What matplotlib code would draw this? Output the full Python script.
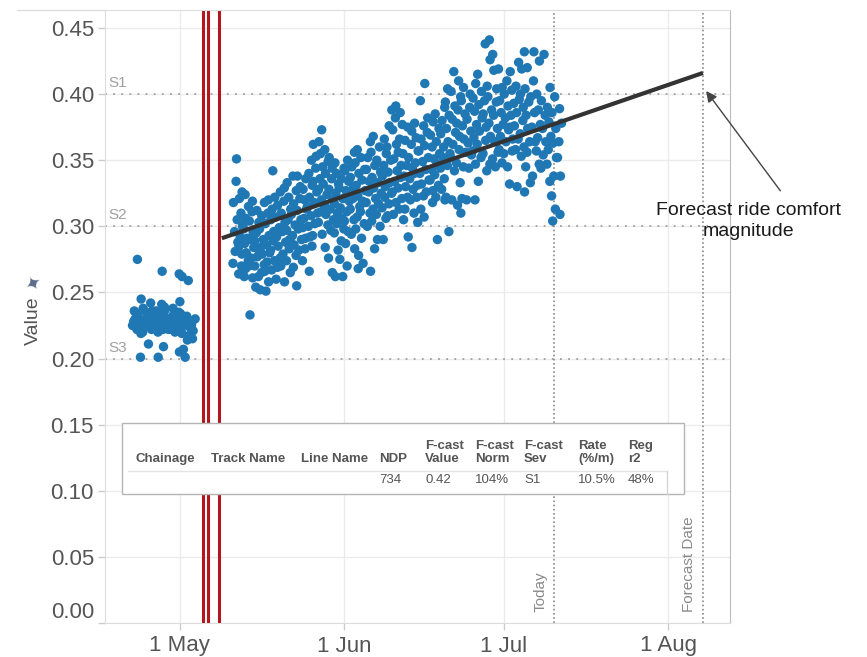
import numpy as np
import matplotlib
matplotlib.use("Agg")
import matplotlib.pyplot as plt
import matplotlib.dates as mdates
from matplotlib.lines import Line2D
from matplotlib.patches import Rectangle

plt.rcParams['font.family'] = ['Liberation Sans', 'DejaVu Sans']

# reading days (offset from 1 May) and values recorded on each day
early_days = [-9, -8, -7, -6, -5, -4, -3, -2, -1, 0, 1, 2]
early_readings = [
    [0.230, 0.225, 0.234, 0.228, 0.222, 0.236],
    [0.275, 0.245, 0.231, 0.226, 0.221, 0.229, 0.234, 0.219, 0.201],
    [0.238, 0.229, 0.224, 0.232, 0.227, 0.220, 0.235, 0.226],
    [0.242, 0.230, 0.225, 0.233, 0.222, 0.228, 0.211, 0.236, 0.227],
    [0.201, 0.228, 0.223, 0.231, 0.226, 0.236, 0.220, 0.229, 0.225],
    [0.266, 0.241, 0.227, 0.222, 0.232, 0.209, 0.225, 0.229, 0.235],
    [0.231, 0.226, 0.222, 0.228, 0.236, 0.224, 0.230, 0.239],
    [0.233, 0.227, 0.221, 0.229, 0.225, 0.238, 0.223, 0.231],
    [0.264, 0.229, 0.224, 0.232, 0.226, 0.220, 0.235, 0.228, 0.205],
    [0.262, 0.243, 0.227, 0.222, 0.231, 0.226, 0.219, 0.234, 0.207],
    [0.259, 0.229, 0.224, 0.232, 0.218, 0.214, 0.201, 0.227],
    [0.226, 0.221, 0.230, 0.215, 0.224],
]

late_days = list(range(10, 72))
late_readings = [
    [0.351, 0.334, 0.318, 0.305, 0.296, 0.288, 0.281, 0.272],
    [0.326, 0.321, 0.310, 0.301, 0.292, 0.285, 0.279, 0.270, 0.264, 0.300],
    [0.324, 0.315, 0.306, 0.298, 0.291, 0.287, 0.280, 0.274, 0.268, 0.262],
    [0.319, 0.311, 0.304, 0.296, 0.290, 0.284, 0.276, 0.270, 0.261, 0.233],
    [0.312, 0.303, 0.295, 0.289, 0.283, 0.277, 0.270, 0.262, 0.254],
    [0.318, 0.308, 0.298, 0.290, 0.284, 0.279, 0.271, 0.265, 0.252],
    [0.320, 0.310, 0.302, 0.293, 0.286, 0.280, 0.273, 0.266, 0.258, 0.251],
    [0.342, 0.322, 0.313, 0.305, 0.296, 0.289, 0.282, 0.274, 0.267],
    [0.326, 0.316, 0.307, 0.299, 0.292, 0.285, 0.276, 0.269, 0.260],
    [0.329, 0.319, 0.310, 0.303, 0.296, 0.288, 0.279, 0.270, 0.258],
    [0.333, 0.322, 0.313, 0.305, 0.297, 0.290, 0.283, 0.274, 0.265],
    [0.338, 0.327, 0.317, 0.309, 0.301, 0.293, 0.286, 0.278, 0.269],
    [0.338, 0.330, 0.321, 0.312, 0.305, 0.298, 0.290, 0.282, 0.255],
    [0.336, 0.328, 0.320, 0.313, 0.306, 0.299, 0.291, 0.283, 0.274],
    [0.350, 0.340, 0.331, 0.322, 0.315, 0.308, 0.300, 0.292, 0.285, 0.266],
    [0.362, 0.353, 0.344, 0.334, 0.326, 0.318, 0.310, 0.302, 0.293],
    [0.373, 0.364, 0.355, 0.345, 0.336, 0.328, 0.320, 0.311, 0.303, 0.294],
    [0.358, 0.349, 0.340, 0.332, 0.324, 0.316, 0.309, 0.301, 0.284],
    [0.352, 0.344, 0.336, 0.328, 0.320, 0.313, 0.305, 0.297, 0.276, 0.265],
    [0.348, 0.340, 0.332, 0.325, 0.317, 0.310, 0.302, 0.295, 0.282, 0.262],
    [0.344, 0.336, 0.329, 0.321, 0.314, 0.306, 0.298, 0.289, 0.275, 0.262],
    [0.350, 0.342, 0.334, 0.327, 0.319, 0.311, 0.304, 0.296, 0.287, 0.270],
    [0.356, 0.345, 0.337, 0.329, 0.321, 0.313, 0.305, 0.294, 0.283],
    [0.358, 0.348, 0.340, 0.331, 0.323, 0.315, 0.307, 0.298, 0.278, 0.268],
    [0.352, 0.343, 0.335, 0.327, 0.319, 0.311, 0.302, 0.291, 0.272],
    [0.364, 0.352, 0.343, 0.334, 0.326, 0.318, 0.310, 0.300, 0.266],
    [0.368, 0.356, 0.346, 0.337, 0.329, 0.321, 0.313, 0.304, 0.283],
    [0.360, 0.350, 0.341, 0.333, 0.325, 0.317, 0.309, 0.300, 0.290],
    [0.366, 0.355, 0.346, 0.338, 0.330, 0.322, 0.314, 0.306, 0.290],
    [0.388, 0.376, 0.360, 0.350, 0.341, 0.333, 0.325, 0.317, 0.308],
    [0.391, 0.382, 0.373, 0.362, 0.351, 0.342, 0.334, 0.326, 0.318, 0.309],
    [0.386, 0.377, 0.366, 0.356, 0.346, 0.337, 0.329, 0.321, 0.313],
    [0.375, 0.365, 0.355, 0.346, 0.338, 0.330, 0.322, 0.313, 0.305],
    [0.372, 0.362, 0.352, 0.344, 0.336, 0.328, 0.320, 0.292, 0.284],
    [0.378, 0.367, 0.357, 0.348, 0.340, 0.331, 0.322, 0.310, 0.303],
    [0.395, 0.376, 0.366, 0.357, 0.349, 0.340, 0.332, 0.323, 0.313],
    [0.408, 0.382, 0.371, 0.361, 0.352, 0.343, 0.335, 0.326, 0.307],
    [0.379, 0.369, 0.360, 0.351, 0.343, 0.335, 0.327, 0.318],
    [0.385, 0.374, 0.364, 0.355, 0.347, 0.339, 0.331, 0.322, 0.290],
    [0.390, 0.380, 0.370, 0.360, 0.352, 0.344, 0.336, 0.328, 0.320],
    [0.404, 0.394, 0.384, 0.374, 0.364, 0.355, 0.346, 0.322, 0.296],
    [0.417, 0.402, 0.391, 0.381, 0.371, 0.362, 0.352, 0.342, 0.320],
    [0.410, 0.398, 0.388, 0.378, 0.368, 0.358, 0.348, 0.333, 0.316, 0.310],
    [0.405, 0.395, 0.385, 0.376, 0.366, 0.356, 0.345, 0.321],
    [0.400, 0.390, 0.381, 0.372, 0.363, 0.354, 0.344, 0.320],
    [0.408, 0.397, 0.387, 0.377, 0.367, 0.357, 0.347, 0.320],
    [0.415, 0.402, 0.392, 0.382, 0.372, 0.362, 0.352, 0.334],
    [0.438, 0.406, 0.395, 0.385, 0.375, 0.365, 0.355, 0.342],
    [0.441, 0.430, 0.426, 0.398, 0.388, 0.378, 0.368, 0.351, 0.347],
    [0.418, 0.404, 0.394, 0.384, 0.374, 0.364, 0.356, 0.345],
    [0.419, 0.405, 0.395, 0.386, 0.377, 0.368, 0.358, 0.348],
    [0.410, 0.400, 0.391, 0.382, 0.373, 0.364, 0.355, 0.345],
    [0.417, 0.403, 0.393, 0.384, 0.375, 0.366, 0.357, 0.332],
    [0.424, 0.406, 0.396, 0.386, 0.376, 0.366, 0.358, 0.330],
    [0.432, 0.419, 0.400, 0.390, 0.380, 0.370, 0.360, 0.353, 0.326],
    [0.420, 0.404, 0.394, 0.384, 0.374, 0.364, 0.356, 0.345],
    [0.432, 0.410, 0.398, 0.386, 0.375, 0.364, 0.338, 0.333],
    [0.425, 0.400, 0.388, 0.377, 0.367, 0.357, 0.347],
    [0.430, 0.395, 0.384, 0.374, 0.364, 0.354, 0.344],
    [0.405, 0.390, 0.379, 0.368, 0.358, 0.347, 0.334],
    [0.398, 0.386, 0.374, 0.363, 0.352, 0.338, 0.323, 0.313, 0.304],
    [0.389, 0.378, 0.364, 0.352, 0.338, 0.309],
]
# hour of day of the readings, taken in turn
reading_hours = [14, 2, 19, 7, 22, 10, 0, 17, 5, 12, 21, 9, 3, 16]

# events (day offsets from 1 May)
track_work_days = [4.27, 5.33, 7.4]
today_day = 70.5
forecast_day = 98.5
reg_start_day, reg_start_val = 7.9, 0.291
reg_end_day, reg_end_val = forecast_day, 0.416
severity_names = ["S1", "S2", "S3"]
severity_levels = [0.40, 0.30, 0.20]

y_ticks = [0.00, 0.05, 0.10, 0.15, 0.20, 0.25, 0.30, 0.35, 0.40, 0.45]
x_tick_days = [0, 31, 61, 92]
x_tick_labels = ["1 May", "1 Jun", "1 Jul", "1 Aug"]

table_headers = ["Chainage", "Track Name", "Line Name", "NDP", "F-cast\nValue",
                 "F-cast\nNorm", "F-cast\nSev", "Rate\n(%/m)", "Reg\nr2"]
table_values = ["", "", "", "734", "0.42", "104%", "S1", "10.5%", "48%"]

base = mdates.date2num(np.datetime64("2015-05-01"))


def dnum(day):
    return base + np.asarray(day, dtype=float)


xs, ys = [], []
k = 0
for days, readings in [(early_days, early_readings), (late_days, late_readings)]:
    for d, vals in zip(days, readings):
        for v in vals:
            xs.append(dnum(d + reading_hours[k % len(reading_hours)] / 24.0))
            ys.append(v)
            k += 1

W, H = 867, 657
fig = plt.figure(figsize=(W / 100, H / 100), dpi=100)
ax = fig.add_axes([105 / W, 1 - 623 / H, (730 - 105) / W, (623 - 10) / H])

ax.set_xlim(dnum(-14.1), dnum(103.6))
ax.set_ylim(0, 0.4636)

ax.grid(True, color='#ebebeb', linewidth=1)
ax.set_axisbelow(True)

for lvl, name in zip(severity_levels, severity_names):
    ax.axhline(lvl, color='#a0a0a0', linewidth=1.3, linestyle=(0, (1, 3.5)), zorder=1)
    ax.text(0.006, lvl + 0.003, name, transform=ax.get_yaxis_transform(),
            ha='left', va='bottom', fontsize=11, color='#a0a0a0')

for d in track_work_days:
    ax.axvline(dnum(d), color='#b3161c', linewidth=2.2, zorder=2)

ax.scatter(xs, ys, s=46, color='#1f77b4', edgecolors='none', zorder=3)

ax.plot([dnum(reg_start_day), dnum(reg_end_day)], [reg_start_val, reg_end_val],
        color='#333333', linewidth=3, solid_capstyle='butt', zorder=4)

for d, label in [(today_day, "Today"), (forecast_day, "Forecast Date")]:
    ax.axvline(dnum(d), color='#8a8a8a', linewidth=1.2, linestyle=(0, (1, 1.5)), zorder=2)
    ax.text(dnum(d) - 1.3, 0.008, label, rotation=90, ha='right', va='bottom',
            fontsize=11, color='#8a8a8a')

ax.set_yticks(y_ticks)
ax.set_yticklabels([f"{t:.2f}" for t in y_ticks])
ax.set_xticks([dnum(d) for d in x_tick_days])
ax.set_xticklabels(x_tick_labels)
ax.tick_params(axis='both', labelsize=16, labelcolor='#555555', color='#cccccc',
               length=5, width=1)
ax.tick_params(axis='y', pad=3)
ax.tick_params(axis='x', pad=4)
ax.get_yticklabels()[0].set_verticalalignment('bottom')

for side in ['left', 'bottom', 'top']:
    ax.spines[side].set_color('#dddddd')
ax.spines['right'].set_color('#bbbbbb')

fig.text(33 / W, 1 - 321 / H, "Value", rotation=90, ha='center', va='center',
         fontsize=14, color='#555555')
fig.text(33 / W, 1 - 284 / H, "\u2726", rotation=30, ha='center', va='center',
         fontsize=14, color='#5b6b8c', family=['DejaVu Sans'])

fig.add_artist(Line2D([17 / W, 105 / W], [1 - 10 / H, 1 - 10 / H], color='#dddddd', linewidth=1))

# annotation
ax.annotate('', xy=(dnum(forecast_day + 0.3), 0.404), xytext=(782, H - 193),
            textcoords='figure pixels', annotation_clip=False,
            arrowprops=dict(arrowstyle='-|>', color='#444444', lw=1, mutation_scale=16))
fig.text(749 / W, 1 - 221 / H, "Forecast ride comfort\nmagnitude", ha='center', va='center',
         fontsize=14, color='#1a1a1a', linespacing=1.25)

# summary table
fig.add_artist(Rectangle((122 / W, 1 - 494 / H), (684 - 122) / W, (494 - 423) / H,
                         transform=fig.transFigure, facecolor='white', edgecolor='#b5b5b5',
                         linewidth=1, zorder=5))
fig.add_artist(Line2D([128 / W, 667 / W], [1 - 471 / H, 1 - 471 / H],
                      color='#e3e3e3', linewidth=1, zorder=6))
fig.add_artist(Line2D([667 / W, 667 / W], [1 - 471 / H, 1 - 494 / H],
                      color='#d5d5d5', linewidth=1, zorder=6))
col_x = [135, 211, 301, 379, 425, 475, 524, 578, 628]
for cx, head, val in zip(col_x, table_headers, table_values):
    fig.text(cx / W, 1 - 465 / H, head, ha='left', va='bottom', fontsize=9.5,
             fontweight='bold', color='#555555', linespacing=1.15, zorder=7)
    fig.text(cx / W, 1 - 480 / H, val, ha='left', va='center', fontsize=9.5,
             color='#555555', zorder=7)

fig.savefig("out.png", dpi=100)
